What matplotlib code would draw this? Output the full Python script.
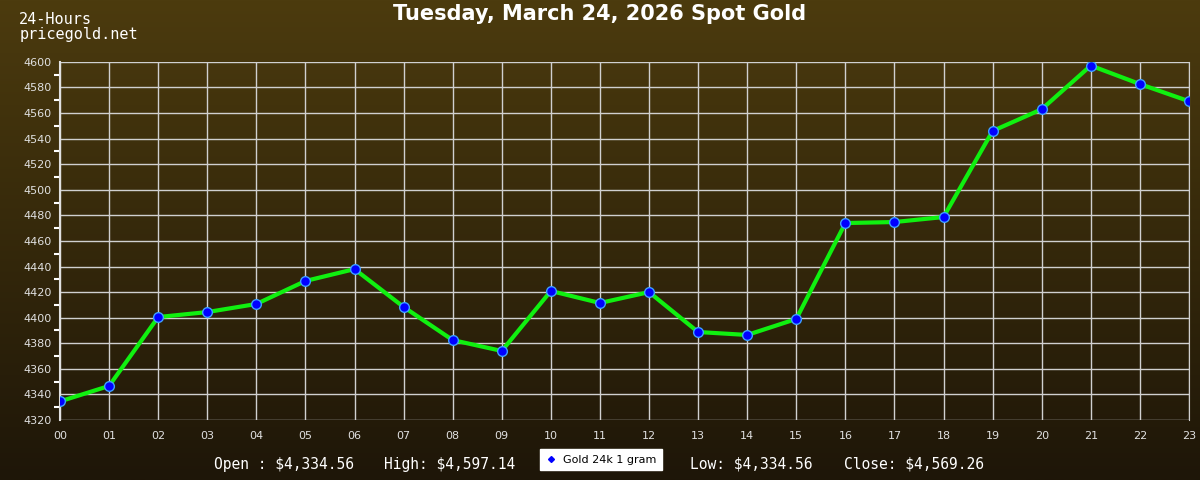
import numpy as np
from matplotlib import pyplot as plt
from matplotlib.ticker import MultipleLocator
from matplotlib.lines import Line2D

# hourly spot gold values
hours = ['00', '01', '02', '03', '04', '05', '06', '07', '08', '09', '10', '11',
         '12', '13', '14', '15', '16', '17', '18', '19', '20', '21', '22', '23']
prices = [4334.56, 4346.6, 4400.5, 4404.4, 4410.7, 4428.7, 4438.0, 4408.4,
          4382.5, 4374.0, 4420.9, 4411.5, 4420.0, 4388.8, 4386.5, 4399.0,
          4474.0, 4474.8, 4478.7, 4546.0, 4563.0, 4597.14, 4582.7, 4569.26]
title = 'Tuesday, March 24, 2026 Spot Gold'
stats = ['Open : $4,334.56', 'High: $4,597.14', 'Low: $4,334.56', 'Close: $4,569.26']
series_name = 'Gold 24k 1 gram'

fig = plt.figure(figsize=(12, 4.8), dpi=100)

# background gradient
bg = fig.add_axes([0, 0, 1, 1], zorder=-10)
top = np.array([76, 59, 14]) / 255
bottom = np.array([30, 22, 8]) / 255
t = np.linspace(0, 1, 256)[:, None]
grad = top * (1 - t) + bottom * t
bg.imshow(grad[:, None, :], aspect='auto', extent=[0, 1, 0, 1])
bg.axis('off')

ax = fig.add_axes([0.05, 0.125, 0.9408, 0.746])
ax.patch.set_alpha(0)
x = np.arange(len(hours))
ax.plot(x, prices, color='#10f010', lw=3, zorder=3)
ax.plot(x, prices, ls='none', marker='o', ms=7, mfc='#0000ff', mec='#3ea0ff',
        mew=1, zorder=4)

ax.set_xlim(0, 23)
ax.set_ylim(4320, 4600)
ax.set_xticks(x)
ax.set_xticklabels(hours)
ax.yaxis.set_major_locator(MultipleLocator(20))
ax.yaxis.set_minor_locator(MultipleLocator(10))
ax.grid(True, color='#d0d0d0', lw=1)
ax.tick_params(colors='#e0e0e0', labelsize=8, length=0, pad=6)
ax.tick_params(axis='y', which='major', length=0, pad=6)
ax.tick_params(axis='y', which='minor', length=4, width=1.5, color='white')
ax.tick_params(axis='x', pad=8)
for s in ['top', 'bottom']:
    ax.spines[s].set_visible(False)
ax.spines['left'].set_color('#e0e0e0')
ax.spines['right'].set_color('#d0d0d0')
ax.spines['left'].set_linewidth(1.5)

fig.text(0.5, 0.97, title, ha='center', va='center', color='white',
         fontsize=15, fontweight='bold', family='DejaVu Sans')
fig.text(0.016, 0.943, '24-Hours\npricegold.net', ha='left', va='center',
         color='white', fontsize=11, family='DejaVu Sans Mono', linespacing=1.0)

stat_x = [0.178, 0.32, 0.575, 0.703]
for sx, s in zip(stat_x, stats):
    fig.text(sx, 0.033, s, ha='left', va='center', color='white', fontsize=10.5,
             family='DejaVu Sans Mono')

handle = Line2D([], [], ls='none', marker='D', ms=3, mfc='#0000ff', mec='#0000ff')
leg = fig.legend([handle], [series_name], loc='center', bbox_to_anchor=(0.501, 0.042),
                 frameon=True, fancybox=False, fontsize=8, handlelength=1,
                 handletextpad=0.6, borderpad=0.5, framealpha=1)
leg.get_frame().set_facecolor('white')
leg.get_frame().set_edgecolor('white')

fig.savefig('out.png', dpi=100)
